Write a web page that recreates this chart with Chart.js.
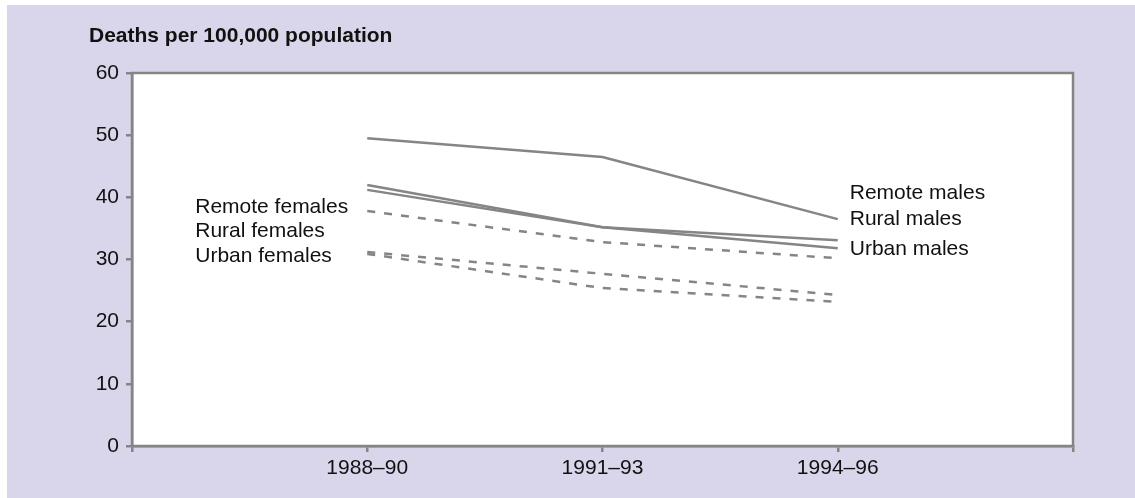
<!DOCTYPE html>
<html>
<head>
<meta charset="utf-8">
<script src="https://cdn.jsdelivr.net/npm/chart.js@4/dist/chart.umd.min.js"></script>
<style>
  html, body { margin: 0; padding: 0; background: #fff; }
  #wrap { width: 1135px; height: 498px; }
</style>
</head>
<body>
<div id="wrap"><canvas id="chart" width="1135" height="498"></canvas></div>
<script>
// periods along the x axis (empty slots at both ends)
const periods = ["", "1988–90", "1991–93", "1994–96", ""];
const yTicks = [0, 10, 20, 30, 40, 50, 60];

// deaths per 100,000 population
const remoteMales = [49.5, 46.5, 36.5];
const ruralMales = [42.0, 35.2, 33.1];
const urbanMales = [41.2, 35.2, 31.8];
const remoteFemales = [37.8, 32.8, 30.2];
const ruralFemales = [31.2, 27.7, 24.3];
const urbanFemales = [30.9, 25.4, 23.2];

// text labels beside the lines
const femaleLabels = ["Remote females", "Rural females", "Urban females"];
const femaleLabelAt = [37.5, 33.6, 29.6];
const maleLabels = ["Remote males", "Rural males", "Urban males"];
const maleLabelAt = [39.7, 35.5, 30.7];

const GREY = "#858585";
const LAVENDER = "#d9d5ea";
const FONT = "'Liberation Sans', Arial, sans-serif";

const toPoints = vals => vals.map((v, i) => ({ x: i + 1, y: v }));

const series = [
  { label: "Remote males", data: remoteMales, dash: [] },
  { label: "Rural males", data: ruralMales, dash: [] },
  { label: "Urban males", data: urbanMales, dash: [] },
  { label: "Remote females", data: remoteFemales, dash: [8, 9] },
  { label: "Rural females", data: ruralFemales, dash: [8, 9] },
  { label: "Urban females", data: urbanFemales, dash: [8, 9] },
];

const frame = {
  id: "frame",
  beforeDraw(chart) {
    const { ctx, chartArea: a } = chart;
    ctx.save();
    ctx.fillStyle = LAVENDER;
    ctx.fillRect(7, 5, chart.width - 7, chart.height - 5);
    ctx.fillStyle = "#fff";
    ctx.fillRect(a.left, a.top, a.right - a.left, a.bottom - a.top);
    ctx.restore();
  },
  afterDraw(chart) {
    const { ctx, chartArea: a, scales } = chart;
    ctx.save();
    ctx.strokeStyle = GREY;
    ctx.lineWidth = 2.5;
    ctx.strokeRect(a.left, a.top, a.right - a.left, a.bottom - a.top);

    ctx.fillStyle = "#111";
    ctx.font = "bold 21px " + FONT;
    ctx.textBaseline = "alphabetic";
    ctx.textAlign = "left";
    ctx.fillText("Deaths per 100,000 population", 89, 42);

    ctx.font = "21px " + FONT;
    const xl = scales.x.getPixelForValue(1) - 172;
    femaleLabels.forEach((t, i) => ctx.fillText(t, xl, scales.y.getPixelForValue(femaleLabelAt[i])));
    const xr = scales.x.getPixelForValue(3) + 12;
    maleLabels.forEach((t, i) => ctx.fillText(t, xr, scales.y.getPixelForValue(maleLabelAt[i])));
    ctx.restore();
  }
};

new Chart(document.getElementById("chart"), {
  type: "line",
  data: {
    datasets: series.map(s => ({
      label: s.label,
      data: toPoints(s.data),
      borderColor: GREY,
      borderWidth: 2.5,
      borderDash: s.dash,
      pointRadius: 0,
      tension: 0,
      fill: false,
    })),
  },
  options: {
    responsive: false,
    animation: false,
    layout: { padding: { left: 0, top: 73, right: 62, bottom: 0 } },
    plugins: { legend: { display: false }, tooltip: { enabled: false } },
    scales: {
      x: {
        type: "linear",
        min: 0,
        max: periods.length - 1,
        afterBuildTicks: s => { s.ticks = periods.map((p, i) => ({ value: i })); },
        afterFit: s => { s.height = 52; },
        grid: { drawOnChartArea: false, color: GREY, lineWidth: 2.5, tickLength: 6 },
        border: { color: GREY, width: 2.5 },
        ticks: {
          color: "#111",
          font: { family: FONT, size: 21 },
          padding: 4,
          maxRotation: 0,
          autoSkip: false,
          callback: v => periods[v],
        },
      },
      y: {
        min: 0,
        max: 60,
        afterBuildTicks: s => { s.ticks = yTicks.map(v => ({ value: v })); },
        afterFit: s => { s.width = 132; },
        grid: { drawOnChartArea: false, color: GREY, lineWidth: 2.5, tickLength: 6 },
        border: { color: GREY, width: 2.5 },
        ticks: {
          color: "#111",
          font: { family: FONT, size: 21 },
          padding: 7,
        },
      },
    },
  },
  plugins: [frame],
});
</script>
</body>
</html>
